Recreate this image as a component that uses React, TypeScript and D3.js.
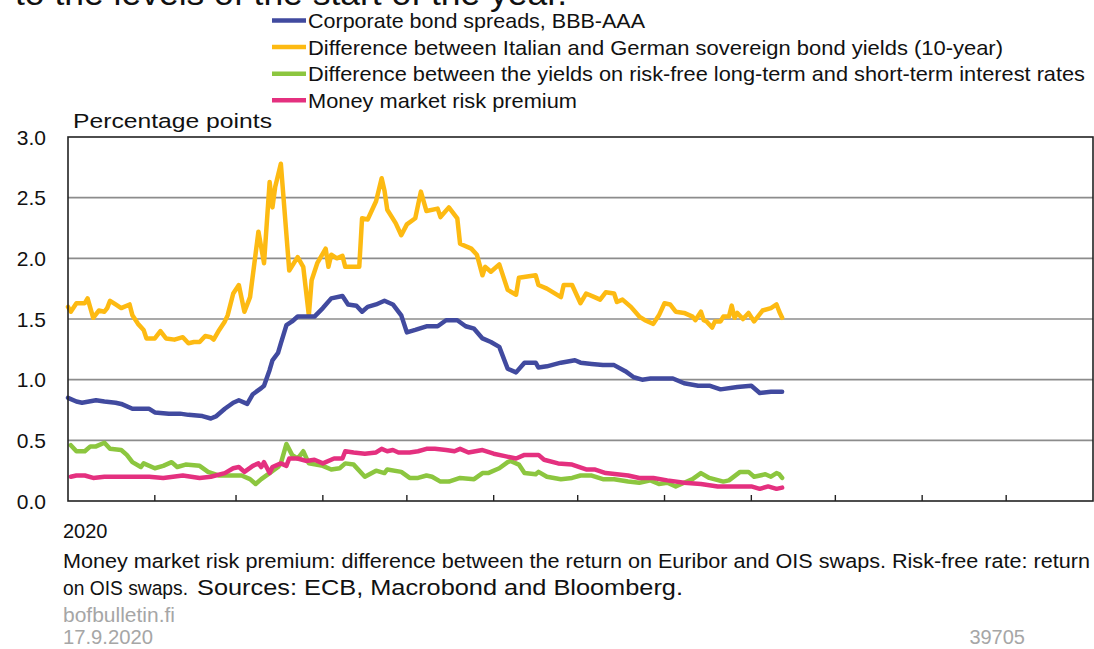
import React from "react";
import * as d3 from "d3";

// ---- Data (days since 1 Jan 2020, values in percentage points) ----
const corpDays = [0, 3, 5, 10, 13, 17, 19, 23, 26, 29, 31, 36, 40, 43, 48, 51, 53, 56, 59, 61, 64, 66, 69, 70, 72, 73, 75, 76, 78, 80, 82, 85, 88, 91, 94, 98, 100, 103, 105, 107, 110, 113, 116, 119, 121, 124, 128, 132, 135, 139, 142, 145, 148, 151, 154, 157, 160, 163, 167, 168, 171, 176, 181, 183, 187, 191, 195, 199, 202, 205, 208, 211, 216, 220, 225, 229, 233, 239, 244, 247, 251, 255];
const corpValues = [0.85, 0.82, 0.81, 0.83, 0.82, 0.81, 0.80, 0.76, 0.76, 0.76, 0.73, 0.72, 0.72, 0.71, 0.70, 0.68, 0.70, 0.76, 0.81, 0.83, 0.80, 0.88, 0.93, 0.95, 1.08, 1.16, 1.22, 1.30, 1.45, 1.48, 1.52, 1.52, 1.52, 1.59, 1.67, 1.69, 1.62, 1.61, 1.56, 1.60, 1.62, 1.65, 1.62, 1.53, 1.39, 1.41, 1.44, 1.44, 1.49, 1.49, 1.44, 1.42, 1.34, 1.31, 1.27, 1.09, 1.06, 1.14, 1.14, 1.10, 1.11, 1.14, 1.16, 1.14, 1.13, 1.12, 1.12, 1.07, 1.02, 1.00, 1.01, 1.01, 1.01, 0.97, 0.95, 0.95, 0.92, 0.94, 0.95, 0.89, 0.90, 0.90];

const itaDays = [0, 1, 3, 6, 7, 9, 11, 13, 14, 15, 17, 19, 22, 23, 25, 27, 28, 31, 33, 35, 38, 41, 43, 45, 47, 49, 51, 52, 54, 56, 57, 59, 61, 63, 65, 68, 70, 72, 73, 74, 76, 79, 82, 84, 86, 87, 89, 92, 93, 94, 96, 98, 99, 104, 105, 107, 110, 112, 113, 114, 117, 119, 121, 124, 126, 128, 132, 133, 136, 139, 140, 144, 146, 148, 149, 151, 154, 157, 160, 161, 167, 168, 171, 176, 177, 180, 183, 185, 188, 190, 192, 195, 196, 198, 201, 204, 206, 209, 211, 213, 215, 217, 220, 223, 224, 226, 227, 228, 230, 231, 233, 234, 236, 237, 238, 239, 241, 243, 245, 248, 251, 253, 254, 255];
const itaValues = [1.60, 1.56, 1.63, 1.63, 1.67, 1.51, 1.57, 1.56, 1.59, 1.65, 1.62, 1.59, 1.62, 1.53, 1.46, 1.41, 1.34, 1.34, 1.40, 1.34, 1.33, 1.35, 1.30, 1.31, 1.31, 1.36, 1.35, 1.33, 1.41, 1.48, 1.53, 1.71, 1.78, 1.56, 1.68, 2.22, 1.96, 2.63, 2.42, 2.59, 2.78, 1.90, 2.01, 1.93, 1.53, 1.82, 1.96, 2.08, 1.93, 2.03, 2.00, 2.02, 1.93, 1.93, 2.33, 2.32, 2.47, 2.66, 2.56, 2.40, 2.29, 2.19, 2.28, 2.33, 2.55, 2.39, 2.41, 2.34, 2.42, 2.33, 2.12, 2.08, 2.03, 1.86, 1.93, 1.89, 1.95, 1.74, 1.70, 1.84, 1.86, 1.78, 1.75, 1.68, 1.78, 1.78, 1.63, 1.71, 1.68, 1.66, 1.72, 1.71, 1.64, 1.66, 1.60, 1.52, 1.49, 1.46, 1.53, 1.63, 1.62, 1.56, 1.55, 1.52, 1.49, 1.56, 1.49, 1.48, 1.43, 1.48, 1.48, 1.52, 1.52, 1.61, 1.51, 1.55, 1.50, 1.55, 1.48, 1.57, 1.59, 1.62, 1.56, 1.51];

const termDays = [1, 3, 6, 8, 10, 13, 15, 19, 21, 23, 26, 27, 31, 34, 37, 39, 42, 47, 50, 54, 57, 62, 65, 67, 69, 72, 75, 76, 78, 80, 82, 84, 86, 91, 94, 97, 99, 102, 106, 110, 113, 114, 119, 122, 125, 128, 130, 133, 136, 140, 145, 148, 150, 154, 157, 158, 161, 163, 167, 168, 171, 176, 180, 183, 187, 191, 195, 200, 204, 208, 211, 214, 217, 220, 223, 226, 229, 234, 236, 240, 243, 245, 249, 251, 253, 254, 255];
const termValues = [0.46, 0.41, 0.41, 0.45, 0.45, 0.48, 0.43, 0.42, 0.38, 0.32, 0.28, 0.31, 0.27, 0.29, 0.32, 0.28, 0.30, 0.29, 0.24, 0.21, 0.21, 0.21, 0.18, 0.14, 0.18, 0.23, 0.28, 0.31, 0.47, 0.38, 0.35, 0.41, 0.31, 0.29, 0.26, 0.27, 0.31, 0.30, 0.20, 0.25, 0.23, 0.26, 0.24, 0.19, 0.19, 0.21, 0.20, 0.16, 0.16, 0.19, 0.18, 0.23, 0.23, 0.27, 0.32, 0.33, 0.30, 0.23, 0.22, 0.24, 0.20, 0.18, 0.19, 0.21, 0.21, 0.18, 0.18, 0.16, 0.15, 0.17, 0.14, 0.15, 0.12, 0.15, 0.18, 0.23, 0.19, 0.16, 0.17, 0.24, 0.24, 0.20, 0.22, 0.20, 0.23, 0.22, 0.19];

const mmDays = [1, 3, 6, 9, 13, 22, 29, 34, 41, 47, 51, 56, 59, 61, 63, 66, 68, 69, 70, 72, 73, 76, 78, 79, 82, 85, 88, 91, 95, 98, 99, 102, 106, 110, 112, 114, 116, 118, 122, 125, 128, 131, 135, 138, 140, 143, 148, 152, 156, 160, 163, 168, 170, 175, 180, 185, 188, 192, 196, 200, 204, 209, 214, 220, 226, 232, 238, 244, 247, 250, 253, 255];
const mmValues = [0.20, 0.21, 0.21, 0.19, 0.20, 0.20, 0.20, 0.19, 0.21, 0.19, 0.20, 0.23, 0.27, 0.28, 0.24, 0.29, 0.31, 0.28, 0.32, 0.23, 0.28, 0.31, 0.29, 0.35, 0.35, 0.33, 0.34, 0.31, 0.35, 0.35, 0.41, 0.40, 0.39, 0.40, 0.43, 0.41, 0.42, 0.40, 0.40, 0.41, 0.43, 0.43, 0.42, 0.41, 0.43, 0.40, 0.42, 0.39, 0.37, 0.35, 0.38, 0.38, 0.34, 0.31, 0.30, 0.26, 0.26, 0.23, 0.22, 0.21, 0.19, 0.19, 0.17, 0.15, 0.14, 0.12, 0.12, 0.12, 0.10, 0.12, 0.10, 0.11];

const seriesNames = [
  "Corporate bond spreads, BBB-AAA",
  "Difference between Italian and German sovereign bond yields (10-year)",
  "Difference between the yields on risk-free long-term and short-term interest rates",
  "Money market risk premium",
];
const seriesColors = ["#414a9f", "#fdba12", "#8cc63f", "#e4307f"];
const yTicks = [0, 0.5, 1, 1.5, 2, 2.5, 3];

const FONT = "'Liberation Sans', Arial, Helvetica, sans-serif";

export default function App() {
  const W = 1094, H = 649;
  const left = 68, right = 1093, top = 137, bottom = 501;
  const start = new Date(2020, 0, 1);
  const end = new Date(2021, 0, 1);
  const x = d3.scaleTime().domain([start, end]).range([left, right]);
  const y = d3.scaleLinear().domain([0, 3]).range([bottom, top]);
  const monthTicks = d3.timeMonth.range(new Date(2020, 1, 1), end);

  const mk = (days: number[], vals: number[]) =>
    days.map((d, i) => ({ date: d3.timeDay.offset(start, d), v: vals[i] }));
  const series = [
    mk(corpDays, corpValues),
    mk(itaDays, itaValues),
    mk(termDays, termValues),
    mk(mmDays, mmValues),
  ];
  const line = d3
    .line<{ date: Date; v: number }>()
    .x((d) => x(d.date))
    .y((d) => y(d.v));

  const legendWidths = [337, 695, 777, 269];
  const drawOrder = [2, 3, 1, 0];

  return (
    <svg
      width={W}
      height={H}
      style={{ position: "absolute", left: 0, top: 0, background: "#fff" }}
      fontFamily={FONT}
    >
      <rect x={0} y={0} width={W} height={H} fill="#fff" />
      {/* cut-off heading */}
      <text x={15} y={5} fontSize={34} fill="#111" textLength={552} lengthAdjust="spacingAndGlyphs">
        to the levels of the start of the year.
      </text>

      {/* legend */}
      {seriesNames.map((n, i) => {
        const cy = 20.5 + i * 26.6;
        return (
          <g key={n}>
            <line x1={272} x2={306} y1={cy} y2={cy} stroke={seriesColors[i]} strokeWidth={4.5} />
            <text
              x={308}
              y={cy}
              dy="0.36em"
              fontSize={21}
              fill="#111"
              textLength={legendWidths[i]}
              lengthAdjust="spacingAndGlyphs"
            >
              {n}
            </text>
          </g>
        );
      })}

      <text x={73} y={128} fontSize={20.5} fill="#111" textLength={199} lengthAdjust="spacingAndGlyphs">
        Percentage points
      </text>

      {/* gridlines */}
      {yTicks.slice(1, -1).map((t) => (
        <line key={t} x1={left} x2={right} y1={y(t)} y2={y(t)} stroke="#8c8c8c" strokeWidth={1.6} />
      ))}
      {/* y labels */}
      {yTicks.map((t) => (
        <text key={"l" + t} x={46} y={y(t)} dy="0.36em" fontSize={21} textAnchor="end" fill="#111">
          {t.toFixed(1)}
        </text>
      ))}

      {/* series */}
      {drawOrder.map((i) => (
        <path
          key={i}
          d={line(series[i]) || ""}
          fill="none"
          stroke={seriesColors[i]}
          strokeWidth={4.5}
          strokeLinejoin="round"
          strokeLinecap="round"
        />
      ))}

      {/* frame */}
      <rect x={left} y={top} width={right - left} height={bottom - top} fill="none" stroke="#222" strokeWidth={1.6} />
      {monthTicks.map((m) => (
        <line key={+m} x1={x(m)} x2={x(m)} y1={bottom} y2={bottom - 6} stroke="#222" strokeWidth={1.4} />
      ))}

      {/* footer */}
      <text x={63} y={538} fontSize={20} fill="#111">2020</text>
      <text x={63} y={568} fontSize={20.5} fill="#111" textLength={1027} lengthAdjust="spacingAndGlyphs">
        Money market risk premium: difference between the return on Euribor and OIS swaps. Risk-free rate: return
      </text>
      <text x={63} y={595} fontSize={20.5} fill="#111" textLength={125} lengthAdjust="spacingAndGlyphs">
        on OIS swaps.
      </text>
      <text x={197} y={595} fontSize={22.5} fill="#111" textLength={486} lengthAdjust="spacingAndGlyphs">
        Sources: ECB, Macrobond and Bloomberg.
      </text>
      <text x={63} y={622} fontSize={20.5} fill="#a6a6a6" textLength={112} lengthAdjust="spacingAndGlyphs">
        bofbulletin.fi
      </text>
      <text x={63} y={644} fontSize={20} fill="#a6a6a6" textLength={90} lengthAdjust="spacingAndGlyphs">
        17.9.2020
      </text>
      <text x={1025} y={644} fontSize={20} fill="#a6a6a6" textAnchor="end">
        39705
      </text>
    </svg>
  );
}
